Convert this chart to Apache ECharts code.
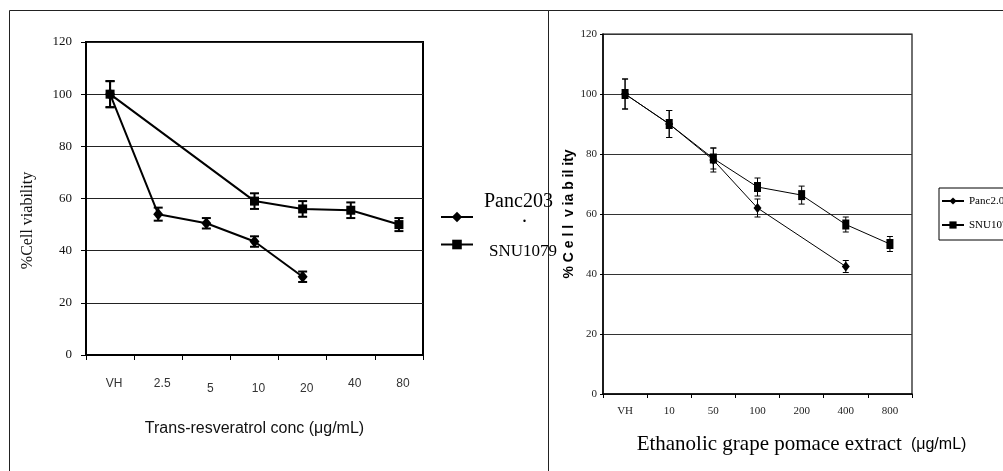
<!DOCTYPE html>
<html>
<head>
<meta charset="utf-8">
<script src="https://cdn.jsdelivr.net/npm/echarts@6/dist/echarts.min.js"></script>
<style>html,body{margin:0;padding:0;background:#fff;}#c{width:1003px;height:471px;}</style>
</head>
<body>
<div id="c"></div>
<script>
// ---- data ----
const categoriesA = ['VH', '2.5', '5', '10', '20', '40', '80'];
const pancA       = [100, 54, 50.5, 43.5, 30, null, null];
const pancAErr    = [5, 2.5, 2, 2, 2, null, null];
const snuA        = [100, null, null, 59, 56, 55.5, 50];
const snuAErr     = [5, null, null, 3, 3, 3, 2.5];

const categoriesB = ['VH', '10', '50', '100', '200', '400', '800'];
const pancB       = [100, 90, 78, 62, null, 42.5, null];
const pancBErr    = [5, 4.5, 4, 3, null, 2, null];
const snuB        = [100, 90, 78.5, 69, 66.3, 56.5, 50];
const snuBErr     = [5, 4.5, 3.5, 3, 3, 2.5, 2.5];

const yTicks = [0, 20, 40, 60, 80, 100, 120];

const nameA1 = 'Panc203', nameA2 = 'SNU1079';
const nameB1 = 'Panc2.03', nameB2 = 'SNU1079 ';

// ---- helpers ----
const SERIF = '"Liberation Serif","Times New Roman",serif';
const SANS = '"Liberation Sans",Arial,sans-serif';

function errData(vals, errs) {
  const out = [];
  vals.forEach((v, i) => { if (v != null && errs[i] != null) out.push([i, v - errs[i], v + errs[i]]); });
  return out;
}
function errSeries(name, vals, errs, axisIdx, cap, lw) {
  return {
    type: 'custom', name: name, xAxisIndex: axisIdx, yAxisIndex: axisIdx, z: 1,
    data: errData(vals, errs), silent: true,
    renderItem: function (params, api) {
      const x = api.value(0);
      const lo = api.coord([x, api.value(1)]);
      const hi = api.coord([x, api.value(2)]);
      const st = { stroke: '#000', lineWidth: lw };
      return { type: 'group', children: [
        { type: 'line', shape: { x1: lo[0], y1: lo[1], x2: hi[0], y2: hi[1] }, style: st },
        { type: 'line', shape: { x1: lo[0] - cap / 2, y1: lo[1], x2: lo[0] + cap / 2, y2: lo[1] }, style: st },
        { type: 'line', shape: { x1: hi[0] - cap / 2, y1: hi[1], x2: hi[0] + cap / 2, y2: hi[1] }, style: st }
      ]};
    }
  };
}

const chart = echarts.init(document.getElementById('c'), null, { renderer: 'canvas' });

const option = {
  animation: false,
  backgroundColor: '#fff',
  graphic: [
    { type: 'rect', shape: { x: 9.5, y: 10.5, width: 539, height: 480 }, style: { fill: 'none', stroke: '#222', lineWidth: 1 }, z: -10 },
    { type: 'rect', shape: { x: 548.5, y: 10.5, width: 480, height: 480 }, style: { fill: 'none', stroke: '#222', lineWidth: 1 }, z: -10 },
    { type: 'text', left: 522, top: 207, style: { text: '.', font: '20px ' + SERIF, fill: '#000' } }
  ],
  grid: [
    { left: 86, top: 42, width: 337, height: 313, show: true, borderColor: '#000', borderWidth: 2, backgroundColor: 'transparent' },
    { left: 603, top: 34, width: 309, height: 360, show: true, borderColor: '#111', borderWidth: 1.2, backgroundColor: 'transparent' }
  ],
  legend: [
    {
      data: [nameA1], left: 440, top: 192, orient: 'vertical', padding: 0,
      itemWidth: 32, itemHeight: 13,
      formatter: '{p|{name}}',
      textStyle: { rich: { p: { fontFamily: SERIF, fontSize: 20, lineHeight: 22, color: '#000', padding: [0, 0, 30, 6] } } }
    },
    {
      data: [nameA2], left: 440, top: 229, orient: 'vertical', padding: 0,
      itemWidth: 32, itemHeight: 12,
      formatter: '{s|{name}}',
      textStyle: { rich: { s: { fontFamily: SERIF, fontSize: 17, lineHeight: 20, color: '#000', padding: [14, 0, 0, 11] } } }
    },
    {
      data: [nameB1, nameB2], left: 939, top: 188, orient: 'vertical',
      padding: [7, 10, 9, 2], itemGap: 12, itemWidth: 22, itemHeight: 9,
      borderColor: '#000', borderWidth: 1,
      formatter: function (n) { return n === nameB2 ? 'SNU1079' : n; },
      textStyle: { fontFamily: SERIF, fontSize: 11, lineHeight: 12, color: '#000' }
    }
  ],
  xAxis: [
    {
      type: 'category', gridIndex: 0, data: categoriesA, boundaryGap: true,
      axisLine: { lineStyle: { color: '#000', width: 2 } },
      axisTick: { show: true, length: 5, lineStyle: { color: '#000', width: 1 } },
      axisLabel: {
        margin: 23, interval: 0,
        formatter: function (v) { return (v === '5' || v === '10' || v === '20') ? '{lo|' + v + '}' : '{hi|' + v + '}'; },
        rich: {
          hi: { fontFamily: SANS, fontSize: 12, color: '#333', padding: [0, 0, 0, 8] },
          lo: { fontFamily: SANS, fontSize: 12, color: '#333', padding: [5, 0, 0, 8] }
        }
      },
      name: 'Trans-resveratrol conc (\u03bcg/mL)', nameLocation: 'middle', nameGap: 66,
      nameTextStyle: { fontFamily: SANS, fontSize: 16, color: '#111' }
    },
    {
      type: 'category', gridIndex: 1, data: categoriesB, boundaryGap: true,
      axisLine: { lineStyle: { color: '#000', width: 1.5 } },
      axisTick: { show: true, length: 4, lineStyle: { color: '#000', width: 1 } },
      axisLabel: { margin: 12, interval: 0, fontFamily: SERIF, fontSize: 11, color: '#222' },
      name: '{a|Ethanolic grape pomace extract}{b|(\u03bcg/mL)}', nameLocation: 'middle', nameGap: 40,
      nameTextStyle: {
        padding: [0, 0, 0, 88],
        rich: {
          a: { fontFamily: SERIF, fontSize: 21, color: '#000', verticalAlign: 'middle' },
          b: { fontFamily: SANS, fontSize: 16, color: '#000', verticalAlign: 'middle', padding: [0, 0, 0, 9] }
        }
      }
    }
  ],
  yAxis: [
    {
      type: 'value', gridIndex: 0, min: yTicks[0], max: yTicks[yTicks.length - 1], interval: 20,
      axisLine: { show: true, lineStyle: { color: '#000', width: 2 } },
      axisTick: { show: true, length: 5, lineStyle: { color: '#000', width: 1 } },
      axisLabel: { margin: 14, fontFamily: SERIF, fontSize: 13, color: '#111' },
      splitLine: { show: true, lineStyle: { color: '#222', width: 1 } },
      name: '%Cell viability', nameLocation: 'middle', nameRotate: 90, nameGap: 50,
      nameTextStyle: { fontFamily: SERIF, fontSize: 16, color: '#111', padding: [0, 44, 0, 0] }
    },
    {
      type: 'value', gridIndex: 1, min: yTicks[0], max: yTicks[yTicks.length - 1], interval: 20,
      axisLine: { show: true, lineStyle: { color: '#000', width: 1.5 } },
      axisTick: { show: true, length: 3, lineStyle: { color: '#000', width: 1 } },
      axisLabel: { margin: 6, fontFamily: SERIF, fontSize: 11, color: '#222' },
      splitLine: { show: true, lineStyle: { color: '#333', width: 1 } },
      name: '% C e l l  v ia b il ity', nameLocation: 'middle', nameRotate: 90, nameGap: 24,
      nameTextStyle: { fontFamily: SANS, fontSize: 14, fontWeight: 'bold', color: '#000' }
    }
  ],
  series: [
    errSeries('errA1', pancA, pancAErr, 0, 9, 2),
    errSeries('errA2', snuA, snuAErr, 0, 9, 2),
    errSeries('errB1', pancB, pancBErr, 1, 6, 1),
    errSeries('errB2', snuB, snuBErr, 1, 6, 1),
    {
      type: 'line', name: nameA1, xAxisIndex: 0, yAxisIndex: 0, data: pancA, connectNulls: true,
      symbol: 'diamond', symbolSize: [10, 12], showAllSymbol: true, z: 3,
      lineStyle: { color: '#000', width: 2 }, itemStyle: { color: '#000' }
    },
    {
      type: 'line', name: nameA2, xAxisIndex: 0, yAxisIndex: 0, data: snuA, connectNulls: true,
      symbol: 'rect', symbolSize: [9, 9], showAllSymbol: true, z: 3,
      lineStyle: { color: '#000', width: 2 }, itemStyle: { color: '#000' }
    },
    {
      type: 'line', name: nameB1, xAxisIndex: 1, yAxisIndex: 1, data: pancB, connectNulls: true,
      symbol: 'diamond', symbolSize: [8, 10], showAllSymbol: true, z: 3,
      lineStyle: { color: '#000', width: 1 }, itemStyle: { color: '#000' }
    },
    {
      type: 'line', name: nameB2, xAxisIndex: 1, yAxisIndex: 1, data: snuB, connectNulls: true,
      symbol: 'rect', symbolSize: [7, 10], showAllSymbol: true, z: 3,
      lineStyle: { color: '#000', width: 1 }, itemStyle: { color: '#000' }
    }
  ]
};
chart.setOption(option);
</script>
</body>
</html>
